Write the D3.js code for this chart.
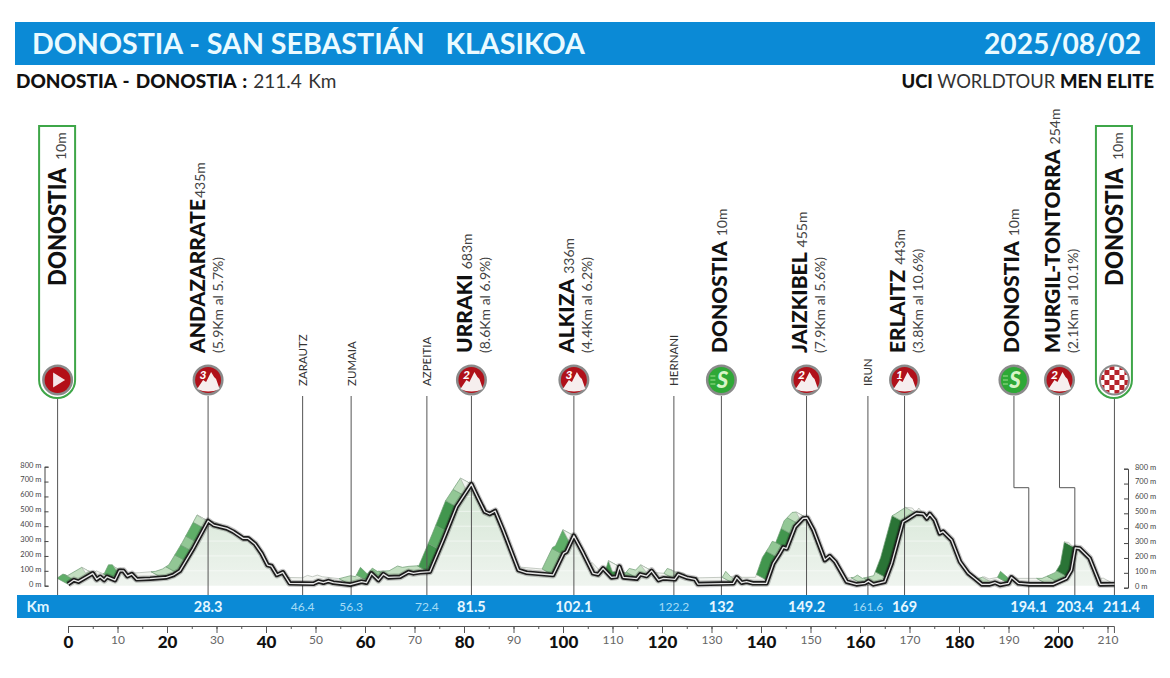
<!DOCTYPE html>
<html>
<head>
<meta charset="utf-8">
<style>
html, body { margin: 0; padding: 0; background: #fff; }
svg { display: block; }
text { font-family: Lato, "Open Sans", sans-serif; }
.name { font-weight: 900; fill: #111; }
.alt { fill: #444; }
.climb { fill: #444; }
.town { fill: #333; }
</style>
</head>
<body>
<div id="chart-area"></div>
<script src="https://cdn.jsdelivr.net/npm/d3@7"></script>
<script>
// profile
var profileKm = [0, 1.2, 2.1, 5, 5.8, 6.5, 7.3, 7.9, 9.5, 10.4, 11.2, 12, 12.9, 13.9, 16.6, 19.9, 21.3, 22.6, 25.3, 28.3,
	29.4, 32.1, 33.4, 35.4, 36.4, 37.8, 39.1, 40.3, 41.1, 42.2, 43.4, 44.8, 49.6, 50.6, 51.6, 52.6, 53.6, 57, 59.3, 60.3,
	61.3, 62.7, 63.7, 64.7, 67.1, 68.8, 69.8, 71.1, 73.1, 75.8, 78.5, 81.5, 82.7, 84.2, 85.2, 86.3, 87.9, 91, 92.7, 98,
	100.1, 100.7, 102.2, 104.1, 106.1, 107.1, 108.1, 109.8, 110.8, 111.4, 112.2, 114.9, 115.6, 116.9, 117.9, 119.3, 120.3, 122.6, 123.3, 125,
	126.7, 127.3, 134.4, 135.1, 136.1, 137.1, 138.4, 141.1, 142.5, 143.8, 144.5, 145.2, 146.9, 148.5, 149.3, 150.6, 152.9, 153.9, 155, 157.3,
	159.3, 161, 161.7, 162.7, 165, 166.4, 168.7, 169.4, 171.4, 172.8, 173.5, 174.1, 175.1, 176.1, 176.8, 178.5, 180.2, 181.9, 183.2, 184.6,
	186.2, 187.3, 188.3, 190, 190.6, 192, 194.3, 199, 201.7, 202.7, 203.5, 204.4, 206.4, 208.5, 211.4];
var profileElev = [10, 38, 27, 83, 43, 60, 38, 60, 38, 100, 100, 65, 78, 43, 47, 56, 72, 100, 250, 435,
	408, 385, 363, 318, 318, 280, 217, 139, 132, 72, 90, 16, 13, 29, 20, 31, 20, 7, 27, 20,
	83, 38, 78, 56, 60, 92, 83, 90, 94, 307, 531, 683, 598, 497, 482, 502, 374, 105, 87, 72,
	217, 228, 336, 217, 83, 76, 116, 56, 60, 128, 56, 47, 76, 65, 100, 38, 49, 43, 76, 54,
	43, 11, 16, 56, 20, 27, 16, 16, 150, 217, 258, 250, 396, 452, 455, 374, 172, 199, 161, 27,
	9, 16, 31, 9, 27, 150, 430, 443, 486, 482, 452, 482, 441, 352, 363, 307, 161, 83, 49, 9,
	9, 20, 5, 16, 56, 16, 9, 9, 49, 105, 254, 250, 184, 9, 10];

// green ribbon blocks: km limits and how steep each one is drawn (0 flat .. 5 steepest)
var ribbonBreaks = [0, 1.5, 5, 9.3, 11.5, 19, 22, 23.8, 25, 26, 27.5, 28.3, 57, 60.5, 62.8, 65, 72.8, 75, 76.5, 78.5, 80, 81.5,
	98, 100, 102.2, 105.9, 107, 109.8, 111.4, 113, 115, 117.9, 122.6, 124, 134.4, 136.1, 141.3, 143.3, 145.2, 146.3, 147.5, 149.3,
	160.4, 163, 165.3, 168.7, 171.4, 185, 187, 190, 192, 197.9, 200, 201.9, 203.5, 211.4];
var ribbonShades = [3, 1, 0, 3, 0, 1, 2, 3, 2, 3, 1, 0, 1, 3, 2, 1, 4, 3, 4, 2, 1,
	0, 2, 3, 0, 2, 0, 4, 0, 2, 1, 0, 1, 0, 1, 0, 4, 2, 4, 2, 1,
	0, 1, 1, 5, 1, 0, 1, 0, 3, 0, 1, 2, 5, 0];
var shadeColors = ['#f3f5f1', '#c3dfc1', '#92c795', '#5fae68', '#42964e', '#2a7436'];

// stops along the route
var stopKm = [-2.1, 28.3, 47.4, 57.2, 72.5, 81.5, 102.2, 122.4, 132, 149.2, 161.6, 169, 194.1, 203.4, 211.4];
var stopLabels = ['', '28.3', '46.4', '56.3', '72.4', '81.5', '102.1', '122.2', '132', '149.2', '161.6', '169', '194.1', '203.4', '211.4'];
var stopNames = ['DONOSTIA', 'ANDAZARRATE', 'ZARAUTZ', 'ZUMAIA', 'AZPEITIA', 'URRAKI', 'ALKIZA', 'HERNANI', 'DONOSTIA', 'JAIZKIBEL', 'IRUN', 'ERLAITZ', 'DONOSTIA', 'MURGIL-TONTORRA', 'DONOSTIA'];
var stopAlts = ['10m', '435m', '', '', '', '683m', '336m', '', '10m', '455m', '', '443m', '10m', '254m', '10m'];
var stopClimbs = ['', '(5.9Km al 5.7%)', '', '', '', '(8.6Km al 6.9%)', '(4.4Km al 6.2%)', '', '', '(7.9Km al 5.6%)', '', '(3.8Km al 10.6%)', '', '(2.1Km al 10.1%)', ''];
var stopTypes = ['start', '3', 'town', 'town', 'town', '2', '3', 'town', 'sprint', '2', 'town', '1', 'sprint', '2', 'finish'];
// two late stops have their icon moved left of the real km
var stopIconKm = [-2.1, 28.3, 47.4, 57.2, 72.5, 81.5, 102.2, 122.4, 132, 149.2, 161.6, 169, 191.1, 200.3, 211.4];

var elevTicks = [0, 100, 200, 300, 400, 500, 600, 700, 800];
var kmTicks = d3.range(0, 211, 10);
var kmMinorTicks = d3.range(0, 211, 5);

var width = 1170;
var height = 678;
var blue = '#0b8ad6';

var svg = d3.select('#chart-area').append('svg')
	.attr('width', width)
	.attr('height', height);

var x = d3.scaleLinear().domain([0, 200]).range([68, 1058]);
var y = d3.scaleLinear().domain([0, 800]).range([585.7, 466.7]);
var elevAt = d3.scaleLinear().domain(profileKm).range(profileElev);
var shade = d3.scaleOrdinal().domain(d3.range(6)).range(shadeColors);

// header
svg.append('rect').attr('x', 15).attr('y', 22).attr('width', 1140).attr('height', 43).attr('fill', blue);
svg.append('text').attr('x', 32).attr('y', 54).attr('fill', '#eafaff')
	.attr('font-size', 28.6).attr('font-weight', 700)
	.attr('xml:space', 'preserve').text('DONOSTIA - SAN SEBASTIÁN   KLASIKOA');
svg.append('text').attr('x', 1141).attr('y', 54).attr('fill', '#eafaff')
	.attr('text-anchor', 'end').attr('font-size', 28.2).attr('font-weight', 700)
	.text('2025/08/02');

var sub = svg.append('text').attr('x', 16).attr('y', 88).attr('font-size', 19).attr('word-spacing', 1.6).attr('fill', '#111');
sub.append('tspan').attr('font-weight', 900).text('DONOSTIA - DONOSTIA : ');
sub.append('tspan').attr('fill', '#333').text('211.4 Km');

var cat = svg.append('text').attr('x', 1154).attr('y', 88).attr('font-size', 18.4).attr('text-anchor', 'end').attr('fill', '#111');
cat.append('tspan').attr('font-weight', 900).text('UCI ');
cat.append('tspan').attr('fill', '#333').text('WORLDTOUR ');
cat.append('tspan').attr('font-weight', 900).text('MEN ELITE');

// ribbon goes first so the area hides it on the descents
var defs = svg.append('defs');
var profile = profileKm.map((d, i) => ({ km: d, elev: profileElev[i] }));

var ribbonDx = -11;
var ribbonDy = -6;
var blocks = ribbonShades.map((s, i) => ({ from: ribbonBreaks[i], to: ribbonBreaks[i + 1], shade: s }));

svg.append('g').selectAll('polygon').data(blocks).enter().append('polygon')
	.attr('points', d => {
		var kms = [d.from].concat(profileKm.filter(k => k > d.from && k < d.to), [d.to]);
		var low = kms.map(k => [x(k), y(elevAt(k))]);
		var high = low.map(p => [p[0] + ribbonDx, p[1] + ribbonDy]).reverse();
		return low.concat(high).join(' ');
	})
	.attr('fill', d => shade(d.shade))
	.attr('stroke', d => d.shade === 0 ? '#aeb6ac' : '#6f9c74')
	.attr('stroke-width', 0.7);

// area under the profile
var grad = defs.append('linearGradient').attr('id', 'areaFill').attr('x1', 0).attr('x2', 0).attr('y1', 0).attr('y2', 1);
grad.append('stop').attr('offset', '0%').attr('stop-color', '#d3e5d3');
grad.append('stop').attr('offset', '100%').attr('stop-color', '#eff4ef');

var area = d3.area().x(d => x(d.km)).y0(y(0)).y1(d => y(d.elev));
var line = d3.line().x(d => x(d.km)).y(d => y(d.elev));

defs.append('clipPath').attr('id', 'areaClip').append('path').attr('d', area(profile));

svg.append('path').attr('d', area(profile)).attr('fill', 'url(#areaFill)');

svg.append('g').attr('clip-path', 'url(#areaClip)')
	.selectAll('line').data(elevTicks.slice(1)).enter().append('line')
	.attr('x1', x(0)).attr('x2', x(211.4))
	.attr('y1', d => y(d)).attr('y2', d => y(d))
	.attr('stroke', '#fff').attr('stroke-opacity', 0.55);

// leader lines
var labelTop = 396;
var barTop = 595;
var stepY = 487.7;
svg.append('g').selectAll('path').data(stopKm).enter().append('path')
	.attr('d', (d, i) => {
		var a = x(stopIconKm[i]);
		var b = x(d);
		return a === b ? `M${a},${labelTop}V${barTop}` : `M${a},${labelTop}V${stepY}H${b}V${barTop}`;
	})
	.attr('fill', 'none').attr('stroke', '#555').attr('stroke-width', 1);

// profile line
svg.append('path').attr('d', line(profile)).attr('fill', 'none')
	.attr('stroke', '#000').attr('stroke-opacity', 0.22).attr('stroke-width', 7).attr('stroke-linejoin', 'round');
svg.append('path').attr('d', line(profile)).attr('fill', 'none')
	.attr('stroke', '#1c1c1c').attr('stroke-width', 4.6).attr('stroke-linejoin', 'round');
svg.append('path').attr('d', line(profile)).attr('fill', 'none')
	.attr('stroke', '#e8e8e8').attr('stroke-width', 1.3).attr('stroke-linejoin', 'round');

// km bar
svg.append('rect').attr('x', 17).attr('y', barTop).attr('width', 1137).attr('height', 23).attr('fill', blue);
svg.append('text').attr('x', 38).attr('y', 612).attr('text-anchor', 'middle').attr('fill', '#dff5ff')
	.attr('font-size', 15).attr('font-weight', 700).text('Km');

svg.append('g').selectAll('text').data(stopLabels).enter().append('text')
	.attr('x', (d, i) => x(stopKm[i]) + (stopTypes[i] === 'finish' ? 7 : 0))
	.attr('y', (d, i) => stopTypes[i] === 'town' ? 611 : 612)
	.attr('text-anchor', 'middle')
	.attr('font-size', (d, i) => stopTypes[i] === 'town' ? 12 : 14.5)
	.attr('font-weight', (d, i) => stopTypes[i] === 'town' ? 400 : 700)
	.attr('fill', (d, i) => stopTypes[i] === 'town' ? '#a5dcf5' : '#e6f7ff')
	.text(d => d);

// km axis
var axisY = 626;
var kmMinor = svg.append('g').attr('transform', `translate(0, ${axisY})`)
	.call(d3.axisBottom(x).tickValues(kmMinorTicks).tickSize(3).tickFormat('').tickSizeOuter(0));
kmMinor.select('.domain').attr('d', `M${x(0)},0.5H${x(211.4)}V7`).attr('stroke', '#555');
kmMinor.selectAll('line').attr('stroke', '#555');

var kmAxis = svg.append('g').attr('transform', `translate(0, ${axisY})`)
	.call(d3.axisBottom(x).tickValues(kmTicks).tickSize(7).tickSizeOuter(0));
kmAxis.select('.domain').remove();
kmAxis.selectAll('line').attr('stroke', '#555');
kmAxis.selectAll('text')
	.attr('y', d => d % 20 === 0 ? 10 : 9)
	.attr('dy', '0.71em')
	.attr('font-family', 'Lato')
	.attr('font-size', d => d % 20 === 0 ? 17 : 12)
	.attr('font-weight', d => d % 20 === 0 ? 900 : 400)
	.attr('fill', d => d % 20 === 0 ? '#111' : '#666');

// elevation axes
var leftAxis = svg.append('g').attr('transform', 'translate(44.5, 0)')
	.call(d3.axisRight(y).tickValues(elevTicks).tickSize(4).tickSizeOuter(4).tickFormat(d => d + ' m'));
leftAxis.selectAll('text').attr('x', -3).attr('text-anchor', 'end').attr('y', -2).attr('font-family', 'Lato').attr('font-size', 7.5).attr('fill', '#444');
leftAxis.selectAll('line, path').attr('stroke', '#444');

var rightAxis = svg.append('g').attr('transform', 'translate(1128, 2)')
	.call(d3.axisLeft(y).tickValues(elevTicks).tickSize(4).tickSizeOuter(4).tickFormat(d => d + ' m'));
rightAxis.selectAll('text').attr('x', 7).attr('text-anchor', 'start').attr('y', -2).attr('font-family', 'Lato').attr('font-size', 7.5).attr('fill', '#444');
rightAxis.selectAll('line, path').attr('stroke', '#444');

// green boxes at start and finish
[stopKm[0], stopKm[14]].forEach(k => {
	var cx = x(k) - 0.5;
	var hw = 18;
	var r = 18;
	svg.append('path')
		.attr('d', `M${cx - hw},126H${cx + hw}V${398 - r}A${r},${r} 0 0 1 ${cx + hw - r},398H${cx - hw + r}A${r},${r} 0 0 1 ${cx - hw},${398 - r}Z`)
		.attr('fill', '#fff').attr('stroke', '#3ea648').attr('stroke-width', 2);
});

// icons
var iconY = 380;
function drawIcon(g, type) {
	g.append('circle').attr('r', 15.5).attr('fill', '#8a8a8a');
	if (type === 'sprint') {
		g.append('circle').attr('r', 13).attr('fill', '#2ea836');
		g.append('text').attr('text-anchor', 'middle').attr('y', 7.5).attr('x', 1)
			.attr('font-size', 22).attr('font-weight', 900).attr('font-style', 'italic').attr('fill', '#d8f5c8').text('S');
		[-4, 0, 4].forEach(dy => g.append('line').attr('x1', -11).attr('x2', -6).attr('y1', dy).attr('y2', dy)
			.attr('stroke', '#9fe08f').attr('stroke-width', 1));
	} else if (type === 'start') {
		g.append('circle').attr('r', 13).attr('fill', '#b30f17');
		g.append('path').attr('d', 'M-4.5,-7.5L7.5,0L-4.5,7.5Z').attr('fill', '#f4e6e6');
	} else if (type === 'finish') {
		g.append('circle').attr('r', 13.5).attr('fill', '#fff');
		var id = 'chk' + Math.round(g.datum());
		defs.append('clipPath').attr('id', id).append('circle').attr('r', 13.5);
		var checks = g.append('g').attr('clip-path', `url(#${id})`);
		d3.range(-3, 3).forEach(a => d3.range(-3, 3).forEach(b => {
			if ((a + b + 6) % 2 === 0) {
				checks.append('rect').attr('x', a * 5).attr('y', b * 5).attr('width', 5).attr('height', 5).attr('fill', '#b5232b');
			}
		}));
	} else {
		g.append('circle').attr('r', 13).attr('fill', '#b0111a');
		g.append('path').attr('d', 'M-11,9L-5,0L-2,2L3,-8L6,-3L8,-1L11.5,9Q0,14 -11,9Z').attr('fill', '#f6eeee');
		g.append('text').attr('x', -5).attr('y', -1.5).attr('text-anchor', 'middle')
			.attr('font-size', 12).attr('font-weight', 900).attr('font-style', 'italic').attr('fill', '#fff').text(type);
	}
}

stopTypes.forEach((type, i) => {
	if (type === 'town') return;
	var g = svg.append('g').datum(stopKm[i]).attr('transform', `translate(${x(stopIconKm[i])}, ${iconY})`);
	drawIcon(g, type);
});

// vertical labels
function vText(px, py, txt, size, cls) {
	return svg.append('text').attr('class', cls)
		.attr('transform', `translate(${px}, ${py}) rotate(-90)`)
		.attr('font-size', size).text(txt);
}

stopNames.forEach((name, i) => {
	var type = stopTypes[i];
	var px = x(stopIconKm[i]);
	if (type === 'town') {
		vText(px + 4.5, 386, name, 11.5, 'town');
		return;
	}
	var boxed = type === 'start' || type === 'finish';
	// the long name of the first climb sits a little left of its line, its height tight behind
	var first = name === 'ANDAZARRATE';
	var base = boxed ? px + 8.5 : (stopClimbs[i] ? px + (first ? -3 : 0.5) : px + 5.5);
	var startY = boxed ? 286 : 353;
	var label = vText(base, startY, name, boxed ? 25 : 21, 'name');
	if (boxed) label.attr('textLength', 118).attr('lengthAdjust', 'spacingAndGlyphs');
	var len = boxed ? 118 : label.node().getComputedTextLength();
	vText(base, startY - len - (boxed ? 8 : (first ? 1 : 5)), stopAlts[i], 14, 'alt');
	if (stopClimbs[i]) vText(base + 18, startY, stopClimbs[i], 14, 'climb');
});
</script>
</body>
</html>
